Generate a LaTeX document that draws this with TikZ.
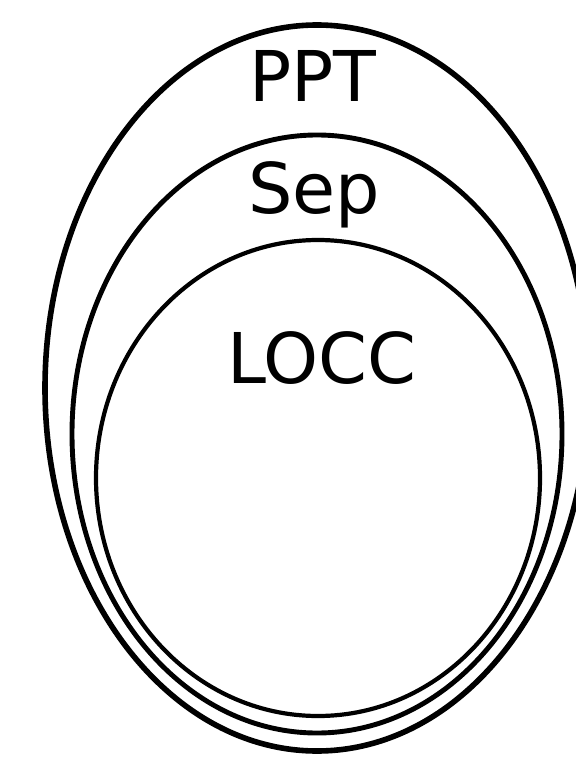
\documentclass[tikz,border=0pt]{standalone}
\usepackage{fontspec}
\setmainfont{DejaVu Sans}
\usetikzlibrary{shapes.geometric}
\tikzset{
  set/.style = {draw, ellipse, inner sep=0pt, outer sep=0pt},
  setname/.style = {anchor=base, inner sep=0pt, font=\fontsize{70}{84}\selectfont}
}

\begin{document}
\begin{tikzpicture}[x=1pt,y=-1pt]
  \useasboundingbox (0,0) rectangle (575,762);
  % nested sets
  \node[set,line width=5.6pt,minimum width=544pt,minimum height=726pt] (ppt) at (317,388) {};
  \node[set,line width=4.9pt,minimum width=490pt,minimum height=598pt] (sep) at (317,434) {};
  \node[set,line width=4.2pt,minimum width=444pt,minimum height=476pt] (locc) at (318,478) {};
  % names
  \node[setname] (pptname) at (313,102) {PPT};
  \node[setname] (sepname) at (314,213) {Sep};
  \node[setname] (loccname) at (322,383) {LOCC};
\end{tikzpicture}
\end{document}
